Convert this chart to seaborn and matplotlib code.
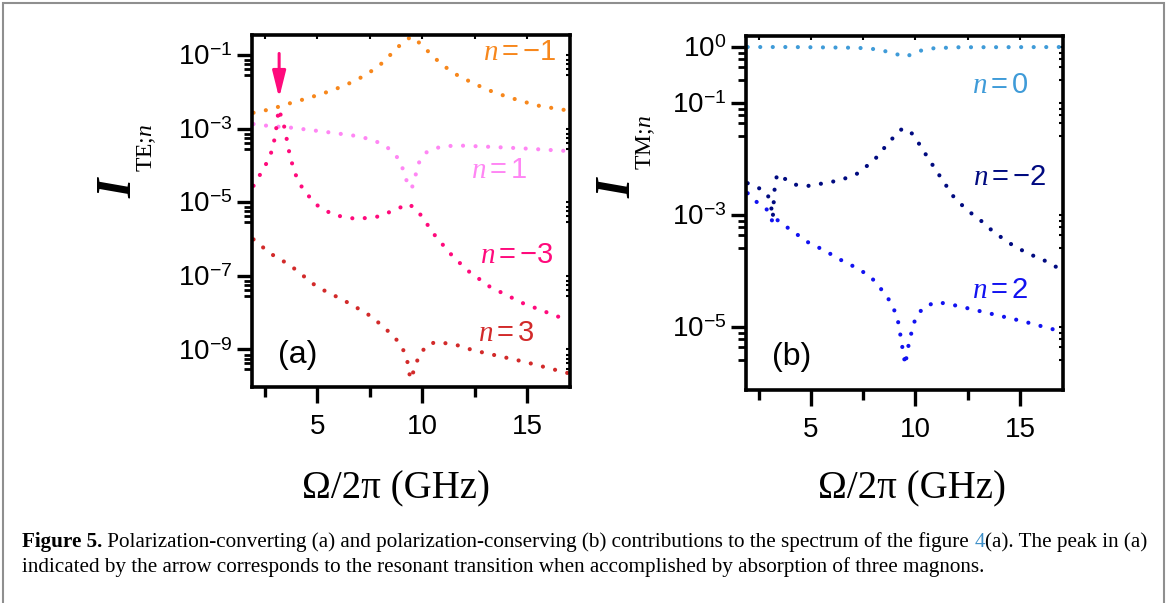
import matplotlib
matplotlib.use('Agg')
import matplotlib.pyplot as plt
import seaborn as sns
from matplotlib.patches import Rectangle
from matplotlib.ticker import FixedLocator, NullFormatter

# ---- panel (a): polarization-converting, I_TE;n ----
x_te_m1 = [1.97, 2.60, 3.08, 3.71, 4.51, 5.30, 5.94, 6.73, 7.37, 8.00, 8.48, 8.95, 9.35, 9.50,
           9.67, 10.06, 10.54, 11.02, 11.65, 12.44, 13.24, 14.03, 14.83, 15.62, 16.81, 17.0]
i_te_m1 = [2.7e-3, 3.2e-3, 3.8e-3, 4.9e-3, 6.6e-3, 9.1e-3, 1.23e-2, 1.9e-2, 3.0e-2, 5.4e-2, 0.10, 0.186,
           0.28, 0.316, 0.27, 0.17, 0.089, 0.051, 0.029, 0.017, 0.0107, 0.0074, 0.0054, 0.0041, 0.0032, 0.0031]

x_te_p1 = [1.97, 2.76, 3.71, 5.30, 6.89, 7.68, 8.32, 8.79, 9.11, 9.35, 9.51, 9.67, 9.83, 10.22,
           10.86, 11.65, 13.24, 14.83, 17.0]
i_te_p1 = [1.33e-3, 1.17e-3, 1.07e-3, 8.3e-4, 6.3e-4, 4.9e-4, 3.2e-4, 1.74e-4, 7.5e-5, 2.6e-5, 2.4e-5,
           4.9e-5, 1.15e-4, 2.3e-4, 3.2e-4, 3.5e-4, 3.2e-4, 2.9e-4, 2.45e-4]

x_te_m3 = [1.97, 2.08, 2.41, 2.76, 3.00, 3.17, 3.40, 3.56, 3.71, 3.95, 4.35, 5.00, 5.78, 6.89, 7.92,
           8.71, 9.35, 9.75, 10.06, 10.54, 11.33, 12.13, 13.24, 14.83, 16.73, 17.0]
i_te_m3 = [2.8e-5, 3.6e-5, 7.5e-5, 1.74e-4, 6.0e-4, 3.4e-3, 1.38e-3, 4.9e-4, 1.74e-4, 6.0e-5, 2.1e-5,
           8.3e-6, 4.5e-6, 3.5e-6, 4.1e-6, 6.2e-6, 9.1e-6, 6.2e-6, 3.6e-6, 1.41e-6, 4.1e-7, 1.45e-7,
           5.0e-8, 1.78e-8, 6.9e-9, 6.0e-9]

x_te_p3 = [1.97, 2.76, 3.71, 5.00, 6.25, 7.37, 8.16, 8.79, 9.11, 9.35, 9.43, 9.59, 9.83, 10.22,
           10.70, 11.65, 12.44, 13.24, 14.83, 17.0]
i_te_p3 = [9.8e-7, 4.1e-7, 1.95e-7, 5.0e-8, 2.2e-8, 9.5e-9, 4.2e-9, 1.82e-9, 9.5e-10, 3.8e-10, 1.55e-10,
           2.5e-10, 6.3e-10, 1.32e-9, 1.62e-9, 1.32e-9, 9.5e-10, 7.5e-10, 4.7e-10, 2.24e-10]

# ---- panel (b): polarization-conserving, I_TM;n ----
x_tm_0 = [1.98, 4.05, 7.22, 8.17, 8.81, 9.52, 10.24, 10.87, 11.98, 17.0]
i_tm_0 = [1.0, 1.0, 0.97, 0.91, 0.80, 0.67, 0.86, 0.95, 0.99, 1.0]

x_tm_m2 = [1.98, 2.62, 2.94, 3.10, 3.18, 3.25, 3.30, 3.41, 3.73, 4.21, 4.84, 5.63, 6.43, 7.22, 8.02,
           8.49, 8.97, 9.37, 9.76, 10.16, 10.56, 11.19, 11.83, 12.46, 13.10, 13.73, 14.52, 15.32,
           16.11, 16.98]
i_tm_m2 = [3.7e-3, 2.9e-3, 2.3e-3, 1.41e-3, 8.9e-4, 2.45e-3, 4.0e-3, 5.4e-3, 4.5e-3, 3.5e-3, 3.3e-3,
           3.7e-3, 4.2e-3, 5.5e-3, 9.5e-3, 1.55e-2, 2.5e-2, 3.5e-2, 3.1e-2, 1.9e-2, 1.1e-2, 4.8e-3,
           2.1e-3, 1.23e-3, 8.1e-4, 5.0e-4, 3.1e-4, 2.1e-4, 1.58e-4, 1.05e-4]

x_tm_p2 = [1.98, 2.27, 2.62, 3.02, 3.18, 3.30, 3.48, 4.05, 4.84, 5.63, 6.43, 7.22, 7.86, 8.33, 8.81,
           9.13, 9.29, 9.44, 9.52, 9.60, 9.76, 10.00, 10.40, 11.03, 11.98, 13.57, 15.16, 16.98]
i_tm_p2 = [2.45e-3, 1.86e-3, 1.51e-3, 1.15e-3, 7.1e-4, 8.9e-4, 7.6e-4, 5.4e-4, 3.3e-4, 2.35e-4, 1.58e-4,
           1.12e-4, 7.9e-5, 4.9e-5, 2.8e-5, 1.51e-5, 6.8e-6, 3.0e-6, 2.1e-6, 3.6e-6, 6.8e-6, 1.45e-5,
           2.3e-5, 2.8e-5, 2.4e-5, 1.74e-5, 1.26e-5, 8.3e-6]

# ticks and labels
x_major = [5, 10, 15]
x_minor = [2.5, 7.5, 12.5]
te_yticks = [1e-1, 1e-3, 1e-5, 1e-7, 1e-9]
te_ylabels = [r'$10^{-1}$', r'$10^{-3}$', r'$10^{-5}$', r'$10^{-7}$', r'$10^{-9}$']
tm_yticks = [1e0, 1e-1, 1e-3, 1e-5]
tm_ylabels = [r'$10^{0}$', r'$10^{-1}$', r'$10^{-3}$', r'$10^{-5}$']

caption_1 = ['Figure 5.', ' Polarization-converting (a) and polarization-conserving (b) contributions '
             'to the spectrum of the figure ', '4', '(a). The peak in (a)']
caption_2 = 'indicated by the arrow corresponds to the resonant transition when accomplished by absorption of three magnons.'

sns.set_theme(style='ticks')
plt.rcParams['font.family'] = ['Liberation Sans', 'DejaVu Sans']
plt.rcParams['mathtext.fontset'] = 'custom'
plt.rcParams['mathtext.rm'] = 'Liberation Sans'
plt.rcParams['mathtext.it'] = 'Liberation Serif:italic'
plt.rcParams['mathtext.sf'] = 'Liberation Serif'
plt.rcParams['mathtext.bf'] = 'Liberation Serif:italic:bold'
for key in ['text.color', 'axes.labelcolor', 'xtick.color', 'ytick.color',
            'xtick.labelcolor', 'ytick.labelcolor']:
    plt.rcParams[key] = 'black'

SERIF = ['Liberation Serif', 'DejaVu Serif']


def dotted(ax, x, y, color):
    sns.lineplot(x=x, y=y, ax=ax, color=color, lw=3.0,
                 linestyle=(0, (0.01, 3.0)), dash_capstyle='round')


def style_axes(ax, yticks, ylabels, minor_dec, ylim):
    ax.set_yscale('log')
    ax.set_xlim(1.9, 17.05)
    ax.set_ylim(*ylim)
    ax.set_xticks(x_major)
    ax.xaxis.set_minor_locator(FixedLocator(x_minor))
    ax.set_yticks(yticks, ylabels)
    ax.yaxis.set_minor_locator(FixedLocator([m * 10 ** (-d) for m in yticks for d in minor_dec]))
    ax.yaxis.set_minor_formatter(NullFormatter())
    for s in ax.spines.values():
        s.set_linewidth(2.6)
        s.set_color('black')
    ax.tick_params(axis='x', which='major', length=11.5, width=2.4, labelsize=20, pad=8)
    ax.tick_params(axis='x', which='minor', length=7, width=2.4)
    ax.tick_params(axis='y', which='major', length=11, width=2.4, labelsize=20, pad=3)
    ax.tick_params(axis='y', which='minor', length=6, width=2.0)
    # small inward ticks mirrored on the right / top
    sec_y = ax.secondary_yaxis('right')
    sec_y.set_yticks(yticks)
    sec_y.yaxis.set_minor_locator(FixedLocator([m * 10 ** (-d) for m in yticks for d in minor_dec]))
    sec_y.tick_params(which='both', direction='in', length=3, width=1.5, labelright=False)
    sec_y.yaxis.set_minor_formatter(NullFormatter())
    sec_x = ax.secondary_xaxis('top')
    sec_x.set_xticks(x_major)
    sec_x.xaxis.set_minor_locator(FixedLocator(x_minor))
    sec_x.tick_params(which='both', direction='in', length=3, width=1.5, labeltop=False)
    for sec in (sec_x, sec_y):
        for s in sec.spines.values():
            s.set_visible(False)


def intensity_label(ax, sub, x_i, y_i, x_s, y_s):
    # big bold-italic I as the y label, its subscript as a smaller rotated text
    ax.set_ylabel(r'$\mathbf{I}$', fontsize=36, ha='center', va='center')
    ax.yaxis.set_label_coords(x_i, y_i)
    ax.text(x_s, y_s, sub, transform=ax.transAxes, rotation=90, fontsize=17,
            family=SERIF, ha='center', va='center')


fig = plt.figure(figsize=(11.68, 6.03), dpi=100)
ax_a = fig.add_axes([0.2158, 0.358, 0.2723, 0.584])
ax_b = fig.add_axes([0.6387, 0.3532, 0.2714, 0.587])

# (a)
dotted(ax_a, x_te_m1, i_te_m1, '#f7871c')
dotted(ax_a, x_te_p1, i_te_p1, '#ff86f4')
dotted(ax_a, x_te_m3, i_te_m3, '#ff0a7c')
dotted(ax_a, x_te_p3, i_te_p3, '#d22a2a')
style_axes(ax_a, te_yticks, te_ylabels, (0.136, 0.25, 0.38, 0.54), (9.5e-11, 0.35))

lab = dict(fontsize=21, ha='center', va='center')
ax_a.text(14.67, 0.12, r'$n=-1$', color='#f7871c', **lab)
ax_a.text(13.7, 7.5e-5, r'$n=1$', color='#ff86f4', **lab)
ax_a.text(14.5, 3.7e-7, r'$n=-3$', color='#ff0a7c', **lab)
ax_a.text(14.0, 2.8e-9, r'$n=3$', color='#d22a2a', **lab)
ax_a.text(4.05, 7e-10, '(a)', fontsize=23, ha='center', va='center')
ax_a.annotate('', xy=(3.19, 6.8e-3), xytext=(3.19, 0.11),
              arrowprops=dict(arrowstyle='-|>,head_width=0.2,head_length=0.8', color='#ff0a7c',
                              lw=2.2, mutation_scale=20, shrinkA=0, shrinkB=0))

ax_a.set_xlabel('Ω/2π (GHz)', fontsize=28, family=SERIF, va='center')
ax_a.xaxis.set_label_coords(0.453, -0.29)
intensity_label(ax_a, r'TE;$n$', -0.421, 0.571, -0.330, 0.679)

# (b)
dotted(ax_b, x_tm_0, i_tm_0, '#3f9bd8')
dotted(ax_b, x_tm_m2, i_tm_m2, '#000a80')
dotted(ax_b, x_tm_p2, i_tm_p2, '#1212f0')
style_axes(ax_b, tm_yticks, tm_ylabels, (0.105, 0.21, 0.35, 0.58), (7.5e-7, 1.57))

ax_b.text(14.05, 0.21, r'$n=0$', color='#3f9bd8', **lab)
ax_b.text(14.52, 4.8e-3, r'$n=-2$', color='#000a80', **lab)
ax_b.text(14.05, 4.6e-5, r'$n=2$', color='#1212f0', **lab)
ax_b.text(4.1, 2.9e-6, '(b)', fontsize=23, ha='center', va='center')

ax_b.set_xlabel('Ω/2π (GHz)', fontsize=28, family=SERIF, va='center')
ax_b.xaxis.set_label_coords(0.524, -0.28)
intensity_label(ax_b, r'TM;$n$', -0.407, 0.576, -0.316, 0.70)

# caption, pieces placed one after another on the same baseline
renderer = fig.canvas.get_renderer()
x0 = 22 / 1168
y1 = 1 - 547 / 603
cap_style = [dict(weight='bold', color='black'), dict(color='black'),
             dict(color='#3d8fc8'), dict(color='black')]
for piece, st in zip(caption_1, cap_style):
    t = fig.text(x0, y1, piece, family=SERIF, fontsize=15.2, va='baseline', ha='left', **st)
    x0 += t.get_window_extent(renderer=renderer).width / fig.bbox.width
fig.text(22 / 1168, 1 - 572 / 603, caption_2, family=SERIF, fontsize=15.2, va='baseline',
         ha='left', color='black')

# thin grey frame around the figure
fig.add_artist(Rectangle((0.0026, -0.02), 0.994, 1.015, transform=fig.transFigure, fill=False,
                         edgecolor='#8f8f8f', lw=1.5, clip_on=False))

fig.savefig('out.png', dpi=100)
